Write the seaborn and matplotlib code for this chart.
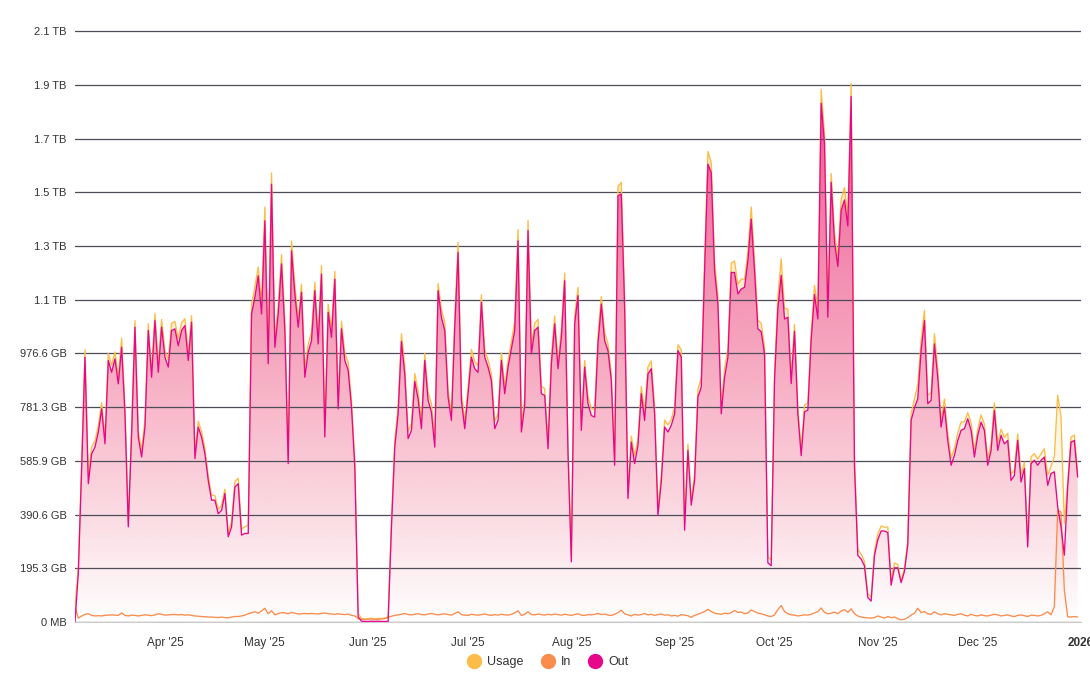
import numpy as np
import pandas as pd
import matplotlib
matplotlib.use("Agg")
import matplotlib.pyplot as plt
import matplotlib.dates as mdates
import matplotlib.colors as mcolors
from matplotlib.lines import Line2D
import seaborn as sns

# ---- data (GB per day), first day 2025-03-05 ----
start_day = "2025-03-05"

out_gb = [
    0, 180, 560, 963, 503, 612, 636, 691, 775, 648,
    951, 908, 957, 866, 999, 757, 346, 685, 1072, 672,
    600, 709, 1060, 890, 1096, 908, 1072, 963, 927, 1060,
    1066, 1005, 1060, 1078, 951, 1090, 594, 709, 672, 612,
    515, 443, 443, 394, 406, 467, 310, 346, 491, 503,
    316, 322, 322, 1120, 1181, 1259, 1120, 1459, 939, 1592,
    999, 1120, 1302, 1060, 576, 1350, 1193, 1072, 1199, 890,
    981, 1023, 1205, 1011, 1265, 673, 1126, 1035, 1247, 775,
    1066, 951, 915, 782, 564, 19, 3, 2, 2, 3,
    2, 3, 2, 2, 2, 346, 636, 757, 1020, 900,
    667, 697, 875, 810, 703, 951, 806, 763, 636, 1205,
    1108, 1060, 818, 733, 1072, 1344, 806, 703, 830, 963,
    921, 908, 1163, 963, 927, 878, 703, 733, 951, 830,
    927, 993, 1060, 1386, 691, 788, 1423, 975, 1060, 1072,
    830, 824, 630, 939, 1084, 921, 1035, 1241, 612, 219,
    1084, 1187, 697, 927, 794, 751, 745, 1011, 1156, 1023,
    987, 878, 570, 1550, 1556, 1144, 449, 654, 576, 642,
    830, 733, 902, 921, 757, 388, 509, 709, 691, 715,
    757, 987, 963, 334, 624, 425, 515, 818, 854, 1277,
    1665, 1634, 1277, 1156, 757, 890, 963, 1271, 1271, 1193,
    1211, 1217, 1314, 1465, 1277, 1066, 1056, 975, 215, 205,
    880, 1140, 1261, 1102, 1108, 867, 1057, 758, 605, 764,
    771, 1026, 1191, 1102, 1886, 1739, 1108, 1599, 1382, 1293,
    1497, 1535, 1440, 1911, 567, 242, 229, 204, 89, 76,
    242, 299, 331, 331, 325, 134, 197, 197, 143, 184,
    280, 733, 779, 812, 987, 1096, 794, 806, 1011, 890,
    709, 781, 660, 570, 606, 660, 697, 703, 739, 697,
    600, 679, 727, 697, 570, 624, 769, 624, 679, 648,
    660, 515, 533, 660, 509, 558, 273, 576, 588, 570,
    588, 600, 497, 540, 546, 419, 346, 243, 491, 654,
    660, 527,
]

in_gb = [
    55, 14, 22, 28, 30, 24, 22, 23, 22, 24,
    25, 26, 25, 24, 33, 24, 22, 25, 24, 22,
    24, 26, 25, 23, 26, 30, 28, 25, 26, 27,
    27, 26, 27, 25, 26, 24, 22, 21, 20, 19,
    18, 18, 17, 16, 18, 16, 15, 18, 20, 20,
    22, 25, 30, 34, 37, 32, 40, 50, 30, 41,
    26, 31, 34, 33, 30, 35, 32, 29, 30, 31,
    30, 31, 30, 29, 31, 33, 30, 29, 28, 30,
    28, 27, 29, 24, 22, 12, 10, 9, 10, 11,
    9, 10, 11, 12, 17, 21, 24, 26, 28, 31,
    27, 26, 28, 30, 27, 26, 29, 31, 28, 26,
    28, 30, 27, 25, 31, 37, 27, 25, 24, 28,
    26, 25, 27, 29, 26, 24, 27, 25, 28, 26,
    25, 28, 33, 41, 24, 28, 37, 27, 26, 29,
    27, 25, 28, 26, 29, 27, 25, 28, 26, 24,
    27, 30, 25, 24, 27, 26, 28, 31, 27, 29,
    25, 24, 28, 34, 43, 30, 26, 22, 28, 25,
    27, 31, 26, 28, 24, 27, 29, 25, 26, 22,
    24, 21, 27, 25, 23, 17, 24, 28, 33, 38,
    46, 38, 32, 30, 28, 32, 30, 34, 42, 35,
    36, 30, 33, 44, 38, 32, 30, 26, 22, 20,
    26, 45, 60, 38, 30, 26, 25, 22, 24, 26,
    25, 28, 33, 38, 51, 35, 30, 32, 36, 30,
    40, 45, 35, 48, 30, 22, 18, 16, 15, 14,
    16, 22, 18, 14, 20, 16, 18, 12, 8, 10,
    16, 25, 32, 50, 34, 38, 30, 28, 37, 30,
    26, 30, 28, 26, 24, 28, 30, 25, 22, 28,
    24, 22, 26, 23, 22, 25, 28, 26, 22, 24,
    26, 22, 20, 24, 26, 23, 20, 25, 24, 22,
    24, 30, 37, 26, 56, 406, 400, 116, 19, 18,
    20, 18,
]

y_tick_labels = ["0 MB", "195.3 GB", "390.6 GB", "585.9 GB", "781.3 GB", "976.6 GB",
                 "1.1 TB", "1.3 TB", "1.5 TB", "1.7 TB", "1.9 TB", "2.1 TB"]
x_tick_dates = ["2025-04-01", "2025-05-01", "2025-06-01", "2025-07-01", "2025-08-01",
                "2025-09-01", "2025-10-01", "2025-11-01", "2025-12-01", "2026-01-01"]
x_tick_labels = ["Apr '25", "May '25", "Jun '25", "Jul '25", "Aug '25",
                 "Sep '25", "Oct '25", "Nov '25", "Dec '25", "2026"]

series_names = ["Usage", "In", "Out"]
colors = {"Usage": "#fbbd47", "In": "#fb8c4c", "Out": "#e6078a"}

# usage is the total of both directions
dates = pd.date_range(start_day, periods=len(out_gb), freq="D")
out_arr = np.array(out_gb, dtype=float)
in_arr = np.array(in_gb, dtype=float)
usage_arr = out_arr + in_arr
values = {"Usage": usage_arr, "In": in_arr, "Out": out_arr}

df = pd.concat([pd.DataFrame({"date": dates, "value": values[n], "series": n})
                for n in series_names], ignore_index=True)

sns.set_style("white")
plt.rcParams["font.family"] = ["Liberation Sans", "DejaVu Sans"]

step = 200000 / 1024.0  # one grid step in GB
y_top = step * (len(y_tick_labels) - 1)

fig = plt.figure(figsize=(10.9, 6.77), dpi=100)
ax = fig.add_axes([75 / 1090, 1 - 622 / 677, (1081 - 75) / 1090, (622 - 30) / 677])

# gradient area fills
xnum = mdates.date2num(dates)


def gradient_fill(y, color, alpha_top, z):
    poly = ax.fill_between(xnum, 0, y, facecolor="none", edgecolor="none")
    rgb = mcolors.to_rgb(color)
    img = np.zeros((256, 1, 4))
    img[:, :, :3] = rgb
    img[:, 0, 3] = np.linspace(0, alpha_top, 256)
    im = ax.imshow(img, aspect="auto", origin="lower", zorder=z,
                   extent=[xnum.min(), xnum.max(), 0, y_top], interpolation="bilinear")
    im.set_clip_path(poly.get_paths()[0], transform=ax.transData)


gradient_fill(usage_arr, colors["Usage"], 0.45, 1.0)
gradient_fill(out_arr, colors["Out"], 0.7, 1.1)
gradient_fill(in_arr, colors["In"], 0.6, 1.2)

sns.lineplot(data=df, x="date", y="value", hue="series", hue_order=series_names,
             palette=colors, estimator=None, linewidth=0.95, legend=False, ax=ax, zorder=4)

ax.set_xlim(pd.Timestamp(start_day), pd.Timestamp("2026-01-01"))
ax.set_ylim(0, y_top * 1.002)

ax.set_yticks([step * i for i in range(len(y_tick_labels))])
ax.set_yticklabels(y_tick_labels)
ax.set_xticks(pd.to_datetime(x_tick_dates))
ax.set_xticklabels(x_tick_labels)
ax.get_xticklabels()[-1].set_fontweight("bold")

# grid lines sit over the fills, under the lines
ax.set_axisbelow(False)
ax.grid(axis="y", color="#4d4d5a", linewidth=0.9, zorder=2.5)
ax.grid(axis="x", visible=False)
for side in ["left", "right", "top"]:
    ax.spines[side].set_visible(False)
ax.spines["bottom"].set_color("#cccccc")
ax.spines["bottom"].set_zorder(0)
ax.tick_params(axis="y", length=0, pad=6, labelsize=8, labelcolor="#333333")
ax.tick_params(axis="x", length=6, color="#cccccc", pad=5, labelsize=8.5, labelcolor="#333333")
ax.set_xlabel("")
ax.set_ylabel("")

handles = [Line2D([], [], marker="o", linestyle="none", markersize=10,
                  markerfacecolor=colors[n], markeredgecolor=colors[n]) for n in series_names]
fig.legend(handles, series_names, loc="center", bbox_to_anchor=(0.5, 1 - 662 / 677),
           ncol=3, frameon=False, fontsize=9, handletextpad=0.05, columnspacing=0.9,
           labelcolor="#333333")

fig.savefig("out.png", dpi=100)
